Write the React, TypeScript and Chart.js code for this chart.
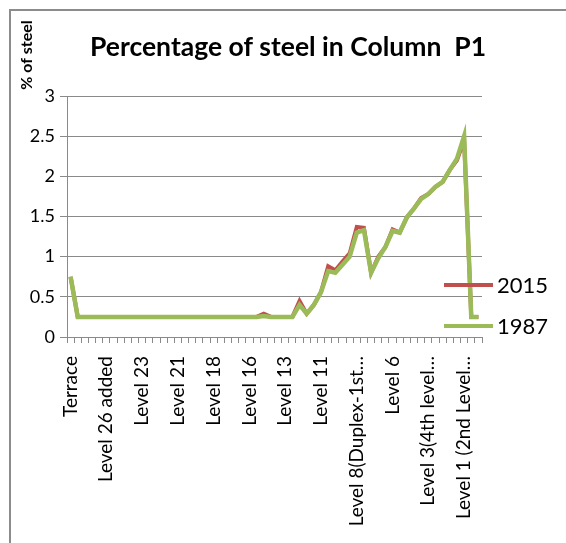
import { useEffect, useRef } from "react";
import { Chart, registerables } from "chart.js";

Chart.register(...registerables);

const FONT = "Lato, 'Open Sans', sans-serif";

const categories = [
  "Terrace", "OHT", "Level 28", "Level 27 added", "Level 27",
  "Level 26 added", "Level 26", "Level 25 added", "Level 25", "Level 24",
  "Level 23", "Level 22 added", "Level 22", "Level 21 added", "Level 21 mid",
  "Level 21", "Level 20 added", "Level 20", "Level 19 added", "Level 19",
  "Level 18", "Level 17 added", "Level 17", "Level 16 added", "Level 16 mid",
  "Level 16", "Level 15 added", "Level 15", "Level 14 added", "Level 14",
  "Level 13", "Level 12 added", "Level 12", "Level 11 added", "Level 11 mid",
  "Level 11", "Level 10 added", "Level 10", "Level 9 added", "Level 9",
  "Level 8(Duplex-1st…", "Level 8 mid", "Level 7 added", "Level 7", "Level 6 added",
  "Level 6", "Level 5 added", "Level 5", "Level 4 added", "Level 4",
  "Level 3(4th level…", "Level 3 mid", "Level 2 added", "Level 2", "Level 1 mid",
  "Level 1 (2nd Level…", "Ground", "Plinth",
];

const series2015 = [
  0.75, 0.25, 0.25, 0.25, 0.25, 0.25, 0.25, 0.25, 0.25, 0.25,
  0.25, 0.25, 0.25, 0.25, 0.25, 0.25, 0.25, 0.25, 0.25, 0.25,
  0.25, 0.25, 0.25, 0.25, 0.25, 0.25, 0.25, 0.29, 0.25, 0.25,
  0.25, 0.25, 0.45, 0.29, 0.40, 0.56, 0.88, 0.83, 0.94, 1.04,
  1.37, 1.36, 0.80, 1.00, 1.12, 1.34, 1.30, 1.49, 1.60, 1.73,
  1.78, 1.87, 1.93, 2.08, 2.20, 2.45, 0.25, 0.25,
];

const series1987 = [
  0.75, 0.25, 0.25, 0.25, 0.25, 0.25, 0.25, 0.25, 0.25, 0.25,
  0.25, 0.25, 0.25, 0.25, 0.25, 0.25, 0.25, 0.25, 0.25, 0.25,
  0.25, 0.25, 0.25, 0.25, 0.25, 0.25, 0.25, 0.26, 0.25, 0.25,
  0.25, 0.25, 0.40, 0.29, 0.40, 0.56, 0.82, 0.80, 0.90, 1.00,
  1.30, 1.33, 0.80, 0.98, 1.12, 1.32, 1.30, 1.49, 1.60, 1.72,
  1.78, 1.87, 1.93, 2.08, 2.22, 2.50, 0.25, 0.25,
];

const yTickLabels = ["0", "0.5", "1", "1.5", "2", "2.5", "3"];
const labelEvery = 5;

const RED = "#C0504D";
const GREEN = "#9BBB59";
const GRID = "#8a8a8a";

const overlay = {
  id: "overlay",
  beforeDraw(chart: any) {
    const ctx = chart.ctx;
    ctx.save();
    ctx.fillStyle = "#ffffff";
    ctx.fillRect(0, 0, chart.width, chart.height);
    ctx.strokeStyle = "#8c8c8c";
    ctx.lineWidth = 2;
    ctx.beginPath();
    ctx.moveTo(10, chart.height);
    ctx.lineTo(10, 10);
    ctx.lineTo(chart.width, 10);
    ctx.stroke();
    ctx.restore();
  },
  afterDraw(chart: any) {
    const ctx = chart.ctx;
    ctx.save();
    ctx.fillStyle = "#000";
    ctx.font = `bold 26.5px ${FONT}`;
    ctx.textAlign = "center";
    ctx.textBaseline = "middle";
    ctx.fillText("Percentage of steel in Column  P1", 288, 47);
    ctx.save();
    ctx.translate(27, 55);
    ctx.rotate(-Math.PI / 2);
    ctx.font = `bold 16px ${FONT}`;
    ctx.fillText("% of steel", 0, 0);
    ctx.restore();
    const items = [
      { text: chart.data.datasets[0].label, color: RED, y: 285 },
      { text: chart.data.datasets[1].label, color: GREEN, y: 326 },
    ];
    ctx.font = `22px ${FONT}`;
    ctx.textAlign = "left";
    for (const it of items) {
      ctx.strokeStyle = it.color;
      ctx.lineWidth = 4;
      ctx.beginPath();
      ctx.moveTo(444, it.y);
      ctx.lineTo(493, it.y);
      ctx.stroke();
      ctx.fillStyle = "#000";
      ctx.fillText(it.text, 497, it.y + 1);
    }
    ctx.restore();
  },
};

export default function App() {
  const ref = useRef<HTMLCanvasElement>(null);
  useEffect(() => {
    const chart = new Chart(ref.current!, {
      type: "line",
      data: {
        labels: categories,
        datasets: [
          { label: "2015", data: series2015, borderColor: RED, backgroundColor: RED, borderWidth: 4, pointRadius: 0, tension: 0, order: 2 },
          { label: "1987", data: series1987, borderColor: GREEN, backgroundColor: GREEN, borderWidth: 4.5, pointRadius: 0, tension: 0, order: 1 },
        ],
      },
      options: {
        animation: false,
        responsive: false,
        layout: { padding: { left: 0, right: 84, top: 96, bottom: 0 } },
        plugins: { legend: { display: false }, title: { display: false }, tooltip: { enabled: false } },
        scales: {
          x: {
            offset: true,
            grid: { offset: true, drawOnChartArea: false, drawTicks: true, tickLength: 6, color: GRID },
            border: { color: GRID },
            ticks: {
              autoSkip: false,
              maxRotation: 90,
              minRotation: 90,
              padding: 13,
              color: "#000",
              font: { family: FONT, size: 19 },
              callback: (_v: any, i: number) => (i % labelEvery === 0 ? categories[i] : ""),
            },
            afterFit: (s: any) => { s.height = 206; },
          },
          y: {
            min: 0,
            max: 3,
            ticks: {
              stepSize: 0.5,
              padding: 5,
              color: "#000",
              font: { family: FONT, size: 18 },
              callback: (_v: any, i: number) => yTickLabels[i],
            },
            grid: { color: GRID, tickLength: 7 },
            border: { color: GRID },
            afterFit: (s: any) => { s.width = 67; },
          },
        },
      },
      plugins: [overlay],
    });
    return () => chart.destroy();
  }, []);
  return (
    <div style={{ position: "fixed", left: 0, top: 0, width: 566, height: 543, background: "#fff" }}>
      <canvas ref={ref} width={566} height={543} style={{ display: "block", width: 566, height: 543 }} />
    </div>
  );
}
